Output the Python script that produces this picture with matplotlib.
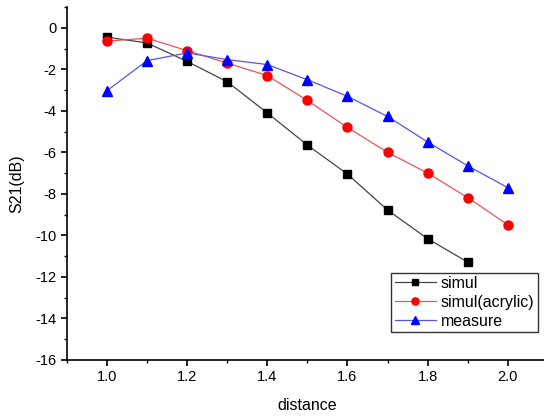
import matplotlib
matplotlib.use("Agg")
import matplotlib.pyplot as plt
from matplotlib.ticker import MultipleLocator

distance = [1.0, 1.1, 1.2, 1.3, 1.4, 1.5, 1.6, 1.7, 1.8, 1.9, 2.0]
simul = [-0.45, -0.73, -1.62, -2.6, -4.1, -5.65, -7.05, -8.78, -10.16, -11.29]
simul_acrylic = [-0.64, -0.5, -1.1, -1.7, -2.3, -3.5, -4.8, -6.0, -7.0, -8.18, -9.49]
measure = [-3.03, -1.58, -1.21, -1.53, -1.77, -2.5, -3.3, -4.27, -5.5, -6.65, -7.7]

plt.rcParams['font.family'] = ['Arial', 'Liberation Sans', 'DejaVu Sans']

fig = plt.figure(figsize=(5.44, 4.16), dpi=100)
ax = fig.add_axes([0.123, 0.135, 0.884, 0.848])

ax.plot(distance[:len(simul)], simul, color='#444444', lw=0.9, marker='s', ms=6,
        mfc='black', mec='black', label='simul')
ax.plot(distance, simul_acrylic, color='#ee5555', lw=0.9, marker='o', ms=6.5,
        mfc='red', mec='red', label='simul(acrylic)')
ax.plot(distance, measure, color='#5555ee', lw=0.9, marker='^', ms=7.5,
        mfc='blue', mec='blue', label='measure')

ax.set_xlim(0.9, 2.1)
ax.set_ylim(-16, 1)
ax.xaxis.set_major_locator(MultipleLocator(0.2))
ax.xaxis.set_minor_locator(MultipleLocator(0.1))
ax.yaxis.set_major_locator(MultipleLocator(2))
ax.yaxis.set_minor_locator(MultipleLocator(1))
ax.spines['top'].set_visible(False)
ax.spines['right'].set_visible(False)
ax.spines['left'].set_linewidth(1.2)
ax.spines['bottom'].set_linewidth(1.2)
ax.tick_params(which='major', direction='out', length=4, width=1.2, labelsize=10.5)
ax.tick_params(which='minor', direction='out', length=2.5, width=1.0)
ax.xaxis.set_major_formatter(plt.FuncFormatter(lambda v, p: '%.1f' % v))
ax.yaxis.set_major_formatter(plt.FuncFormatter(lambda v, p: '%d' % round(v)))

ax.set_xlabel('distance', fontsize=11.5, labelpad=10)
ax.set_ylabel('S21(dB)', fontsize=11.5, labelpad=8)

leg = ax.legend(loc='lower right', bbox_to_anchor=(0.979, 0.079), fontsize=11.5,
                frameon=True, fancybox=False, framealpha=1, borderpad=0.2,
                labelspacing=0.25, handlelength=2.6, handletextpad=0.3,
                borderaxespad=0, markerscale=0.8)
leg.get_frame().set_edgecolor('#333333')
leg.get_frame().set_linewidth(1.0)

fig.savefig('out.png', dpi=100)
